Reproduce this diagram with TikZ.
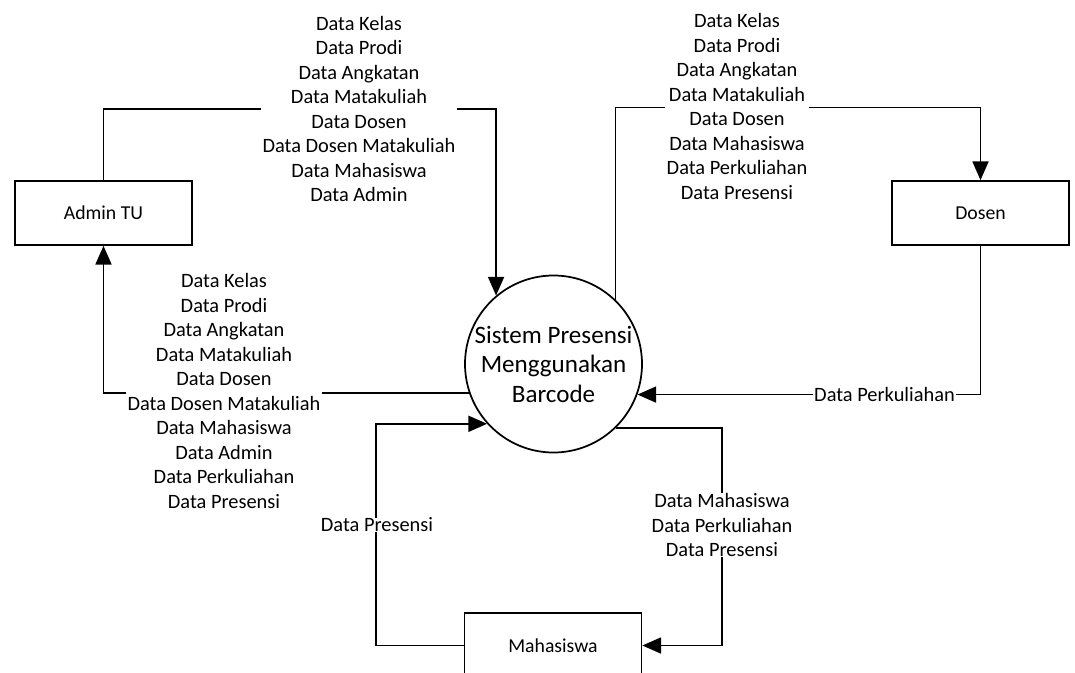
\documentclass[tikz,border=0pt]{standalone}
\usepackage{fontspec}
\setmainfont{Carlito}
\usetikzlibrary{arrows.meta}
\begin{document}
\begin{tikzpicture}[x=0.75pt,y=-0.75pt,
 ent/.style={draw,line width=1.3pt,minimum width=132.75pt,minimum height=48pt,inner sep=0pt,font=\fontsize{14.8}{18.4}\selectfont},
 proc/.style={draw,circle,line width=1.3pt,minimum size=132.75pt,inner sep=0pt,align=center,font=\fontsize{18.8}{22.1}\selectfont},
 flow/.style={line width=1.3pt,-{Triangle[length=14pt,width=12pt]}},
 lbl/.style={fill=white,inner xsep=1pt,inner ysep=0pt,align=center,font=\fontsize{15.3}{18.4}\selectfont}]
\useasboundingbox (0,0) rectangle (1075,672);
\node[ent] (admin) at (103.5,213) {Admin TU};
\node[ent] (dosen) at (980.5,213) {Dosen};
\node[ent,minimum height=48.75pt] (mhs) at (553,645.5) {Mahasiswa};
\node[proc] (sys) at (553.5,364) {Sistem Presensi\\Menggunakan\\Barcode};
\coordinate (t1) at (300,108.7);
\coordinate (t2) at (800,107.5);
\coordinate (t5) at (376,500);
\coordinate (t6) at (722,520);
\draw[flow] (admin.north) |- (t1) -| (sys.130);
\draw[flow] (sys.46) |- (t2) -| (dosen.north);
\draw[flow] (dosen.south) |- (sys.-20);
\draw[flow] (sys.199) -| (admin.south);
\draw[flow] (mhs.west) -| (t5) |- (sys.222);
\draw[flow] (sys.-46) -| (t6) |- (mhs.east);
\node[lbl] (l1) at (359,109) {Data Kelas\\Data Prodi\\Data Angkatan\\Data Matakuliah\\Data Dosen\\Data Dosen Matakuliah\\Data Mahasiswa\\Data Admin};
\node[lbl] (l2) at (737,106.5) {Data Kelas\\Data Prodi\\Data Angkatan\\Data Matakuliah\\Data Dosen\\Data Mahasiswa\\Data Perkuliahan\\Data Presensi};
\node[lbl] (l3) at (884.5,394) {Data Perkuliahan};
\node[lbl] (l4) at (224,391) {Data Kelas\\Data Prodi\\Data Angkatan\\Data Matakuliah\\Data Dosen\\Data Dosen Matakuliah\\Data Mahasiswa\\Data Admin\\Data Perkuliahan\\Data Presensi};
\node[lbl] (l5) at (377,525) {Data Presensi};
\node[lbl] (l6) at (722,525) {Data Mahasiswa\\Data Perkuliahan\\Data Presensi};
\end{tikzpicture}
\end{document}
